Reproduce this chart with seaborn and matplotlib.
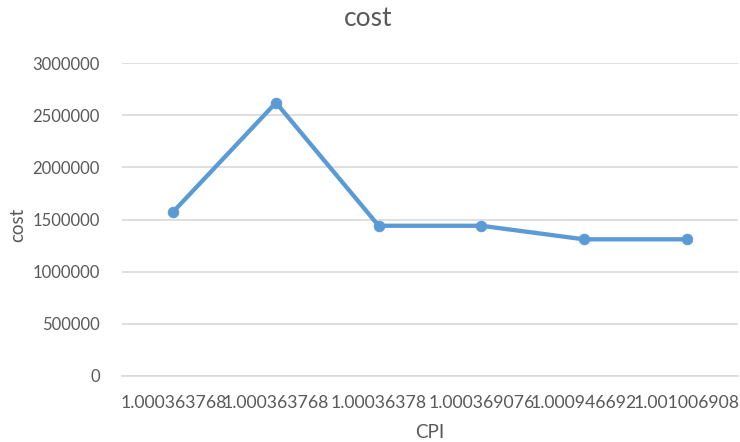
import numpy as np
import pandas as pd
import matplotlib
matplotlib.use("Agg")
import matplotlib.pyplot as plt
import seaborn as sns

# CPI categories (as shown on the category axis) and the matching cost values
cpi_labels = ["1.000363768", "1.000363768", "1.00036378",
              "1.000369076", "1.000946692", "1.001006908"]
cost_values = [1575000, 2620000, 1440000, 1440000, 1310000, 1310000]
y_ticks = [0, 500000, 1000000, 1500000, 2000000, 2500000, 3000000]

sns.set_theme(style="whitegrid")
plt.rcParams["font.family"] = ["Lato", "DejaVu Sans"]

text_color = "#595959"
line_color = "#5B9BD5"
grid_color = "#D9D9D9"

df = pd.DataFrame({"pos": np.arange(len(cpi_labels)), "cost": cost_values})

fig = plt.figure(figsize=(7.4, 4.42), dpi=100)
ax = fig.add_axes([122 / 740, 1 - 376 / 442, 616 / 740, 313 / 442])

sns.lineplot(data=df, x="pos", y="cost", ax=ax, color=line_color,
             linewidth=3.1, marker="o", markersize=7.5,
             markeredgecolor=line_color, markerfacecolor=line_color)

ax.set_xlim(-0.5, len(cpi_labels) - 0.5)
ax.set_ylim(y_ticks[0], y_ticks[-1])
ax.set_xticks(df["pos"])
ax.set_xticklabels(cpi_labels)
ax.set_yticks(y_ticks)
ax.set_yticklabels([str(v) for v in y_ticks])

ax.grid(axis="y", color=grid_color, linewidth=1.2)
ax.grid(axis="x", visible=False)
for side in ["top", "right", "left"]:
    ax.spines[side].set_visible(False)
ax.spines["bottom"].set_color(grid_color)
ax.spines["bottom"].set_linewidth(1.2)

ax.tick_params(axis="x", length=0, pad=14, labelsize=12.7, colors=text_color)
ax.tick_params(axis="y", length=0, pad=16, labelsize=12.0, colors=text_color)

ax.set_xlabel("")
ax.set_ylabel("")

fig.text(368 / 740, 1 - 19 / 442, "cost", ha="center", va="center",
         fontsize=19, color=text_color)
fig.text(18 / 740, 1 - 225 / 442, "cost", ha="center", va="center",
         rotation=90, fontsize=13.5, color=text_color)
fig.text(430 / 740, 1 - 433 / 442, "CPI", ha="center", va="center",
         fontsize=13.5, color=text_color)

fig.savefig("out.png", dpi=100)
